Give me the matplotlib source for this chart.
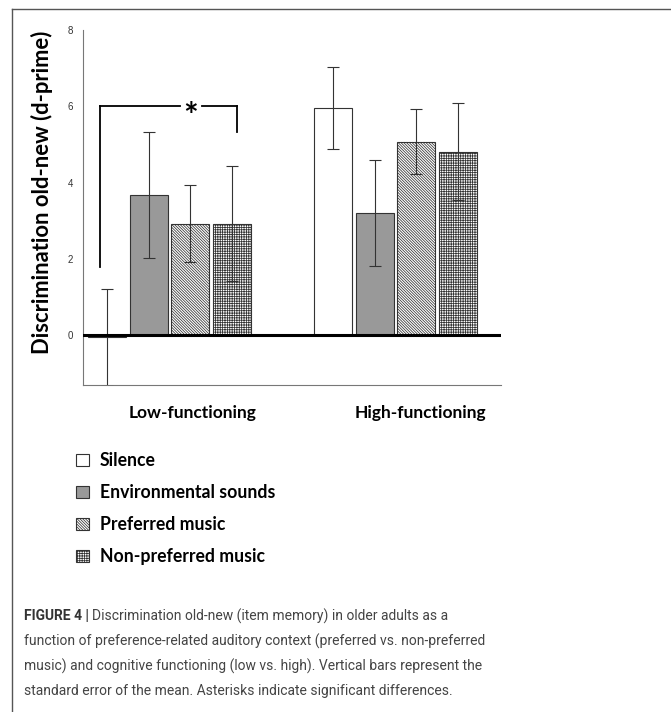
import matplotlib
matplotlib.use("Agg")
import matplotlib.pyplot as plt
import numpy as np
from matplotlib.lines import Line2D

# data
groups = ["Low-functioning", "High-functioning"]
conditions = ["Silence", "Environmental sounds", "Preferred music", "Non-preferred music"]
low_means = [-0.05, 3.67, 2.93, 2.93]
low_err = [1.27, 1.65, 1.00, 1.50]
high_means = [5.95, 3.21, 5.07, 4.81]
high_err = [1.08, 1.39, 0.85, 1.27]
yticks = [0, 2, 4, 6, 8]

fills = ["white", "#999999", "white", "white"]
hatches = [None, None, "\\" * 12, "+" * 7]

plt.rcParams["hatch.linewidth"] = 0.55
plt.rcParams["font.family"] = ["Lato", "DejaVu Sans"]

fig = plt.figure(figsize=(6.71, 7.12), dpi=100)
ax = fig.add_axes([0.1237, 0.4593, 0.6229, 0.4986])

group_gap = 5.45
width = 0.915
bars = []
for g, (means, errs) in enumerate([(low_means, low_err), (high_means, high_err)]):
    xs = np.arange(4) + g * group_gap
    for i in range(4):
        b = ax.bar(xs[i], means[i], width, color=fills[i], edgecolor="#333333",
                   linewidth=0.8, hatch=hatches[i], zorder=2)
        ax.errorbar(xs[i], means[i], yerr=errs[i], color="#333333", elinewidth=0.8,
                    capsize=4.5, capthick=0.8, zorder=3)
        if g == 0:
            bars.append(b)

ax.axhline(0, color="black", linewidth=2.2, zorder=4)
ax.set_xlim(-0.58, 9.49)
ax.set_ylim(-1.3, 8)
ax.set_yticks(yticks)
ax.tick_params(axis="y", length=0, labelsize=7, labelcolor="#333333", pad=7)
for t in ax.get_yticklabels():
    t.set_family(["Liberation Sans", "DejaVu Sans"])
ax.set_xticks([])
for s in ["top", "right"]:
    ax.spines[s].set_visible(False)
ax.spines["left"].set_color("#777777")
ax.spines["bottom"].set_color("#777777")
ax.spines["left"].set_linewidth(0.8)
ax.spines["bottom"].set_linewidth(0.8)

fig.text(42 / 671, 1 - 192 / 712, "Discrimination old-new (d-prime)", rotation=90,
         ha="center", va="center", fontsize=15.8, fontweight="bold")

# significance bracket
bk = dict(color="black", linewidth=1.3, zorder=5)
ax.plot([-0.17, -0.17], [1.78, 6.0], **bk)
ax.plot([-0.17, 1.76], [6.0, 6.0], **bk)
ax.plot([2.29, 3.13], [6.0, 6.0], **bk)
ax.plot([3.13, 3.13], [6.0, 5.34], **bk)
ax.text(2.02, 5.72, "*", ha="center", va="center", fontsize=25, fontweight="bold")

# group labels
for gx, name in zip([2.07, 7.55], groups):
    ax.text(gx, -1.83, name, ha="center", va="top", fontsize=12.5, fontweight="bold")

fig.legend(bars, conditions, loc="upper left", bbox_to_anchor=(0.103, 0.375),
           frameon=False, prop={"weight": "bold", "size": 12.7},
           handlelength=0.7, handleheight=0.7, handletextpad=0.65, labelspacing=0.85,
           borderaxespad=0)

# outer frame
fig.add_artist(Line2D([0.018, 0.018], [0.0, 0.987], color="#555555", linewidth=1.0))
fig.add_artist(Line2D([0.018, 1.0], [0.987, 0.987], color="#555555", linewidth=1.0))

# caption
cap_lines = [
    "Discrimination old-new (item memory) in older adults as a",
    "function of preference-related auditory context (preferred vs. non-preferred",
    "music) and cognitive functioning (low vs. high). Vertical bars represent the",
    "standard error of the mean. Asterisks indicate significant differences.",
]
cap_font = ["Roboto", "DejaVu Sans"]
cap_size = 10.0
ys = [616, 641, 666, 691]
t0 = fig.text(24 / 671, 1 - ys[0] / 712, "FIGURE 4 | ", fontsize=cap_size, fontweight="bold",
              color="#333333", family=cap_font, va="center")
fig.canvas.draw()
bb = t0.get_window_extent()
x1 = bb.x1 / fig.bbox.width
fig.text(x1, 1 - ys[0] / 712, cap_lines[0], fontsize=cap_size, color="#444444",
         family=cap_font, va="center")
for line, y in zip(cap_lines[1:], ys[1:]):
    fig.text(24 / 671, 1 - y / 712, line, fontsize=cap_size, color="#444444",
             family=cap_font, va="center")

fig.savefig("out.png", dpi=100)
